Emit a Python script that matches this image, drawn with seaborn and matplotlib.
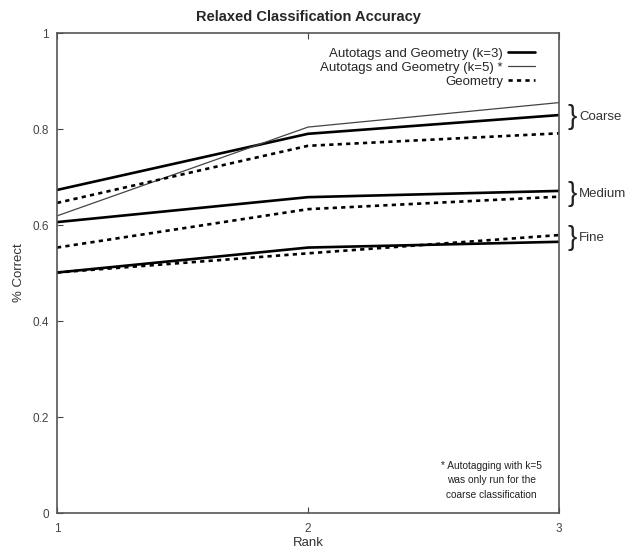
import matplotlib
matplotlib.use("Agg")
import matplotlib.pyplot as plt
import seaborn as sns
import pandas as pd
from matplotlib.lines import Line2D

# data
ranks = [1, 2, 3]
coarse_k3 = [0.673, 0.790, 0.829]
coarse_k5 = [0.619, 0.804, 0.855]
coarse_geo = [0.646, 0.765, 0.791]
medium_k3 = [0.606, 0.658, 0.671]
medium_geo = [0.553, 0.633, 0.659]
fine_k3 = [0.501, 0.553, 0.565]
fine_geo = [0.501, 0.541, 0.579]

series_names = ["Autotags and Geometry (k=3)", "Autotags and Geometry (k=5) *", "Geometry"]
groups = {
    "Coarse": {"k3": coarse_k3, "k5": coarse_k5, "geo": coarse_geo},
    "Medium": {"k3": medium_k3, "geo": medium_geo},
    "Fine": {"k3": fine_k3, "geo": fine_geo},
}
footnote = "* Autotagging with k=5\nwas only run for the\ncoarse classification"

sns.set_style("white")
plt.rcParams["font.family"] = ["Liberation Sans", "DejaVu Sans"]

styles = {
    "k3": dict(color="black", linewidth=1.9, linestyle="-"),
    "k5": dict(color="#444444", linewidth=0.9, linestyle="-"),
    "geo": dict(color="black", linewidth=1.9, linestyle=(0, (1.6, 1.6))),
}

fig = plt.figure(figsize=(6.36, 5.54), dpi=100)
ax = fig.add_axes([57 / 636, 41 / 554, 502 / 636, 480 / 554])

for gname, g in groups.items():
    for key, vals in g.items():
        df = pd.DataFrame({"rank": ranks, "acc": vals})
        sns.lineplot(data=df, x="rank", y="acc", ax=ax, legend=False, **styles[key])
    # brace + label, centred on the group's end values
    yc = sum(v[-1] for v in g.values()) / len(g)
    ax.text(1.016, yc, "}", transform=ax.get_yaxis_transform(), fontsize=20,
            va="center", ha="left", color="#222222", clip_on=False)
    ax.text(1.040, yc, gname, transform=ax.get_yaxis_transform(), fontsize=9.5,
            va="center", ha="left", color="#333333", clip_on=False)

ax.set_xlim(1, 3)
ax.set_ylim(0, 1)
ax.set_xticks(ranks)
ax.set_xticklabels(["1", "2", "3"])
ax.set_yticks([0, 0.2, 0.4, 0.6, 0.8, 1])
ax.set_yticklabels(["0", "0.2", "0.4", "0.6", "0.8", "1"])
ax.tick_params(direction="in", length=4, colors="#444444", labelsize=8.5,
               top=True, right=False, left=True, bottom=True, pad=6)
ax.tick_params(axis="x", pad=7)
for s in ax.spines.values():
    s.set_color("#555555")
    s.set_linewidth(1.2)

ax.set_xlabel("Rank", fontsize=9.5, color="#333333", labelpad=2)
ax.set_ylabel("% Correct", fontsize=9.5, color="#333333", labelpad=5)
ax.set_title("Relaxed Classification Accuracy", fontsize=10.5, fontweight="bold", pad=9)

handles = [Line2D([], [], **styles[k]) for k in ["k3", "k5", "geo"]]
ax.legend(handles, series_names, loc="upper right", bbox_to_anchor=(0.975, 0.995),
          frameon=False, markerfirst=False, fontsize=9.5, handlelength=2.0,
          handletextpad=0.4, labelspacing=0.15)

ax.text(0.866, 0.068, footnote, transform=ax.transAxes, fontsize=7.3, ha="center",
        va="center", color="#222222", linespacing=1.55)

fig.savefig("out.png", dpi=100)
